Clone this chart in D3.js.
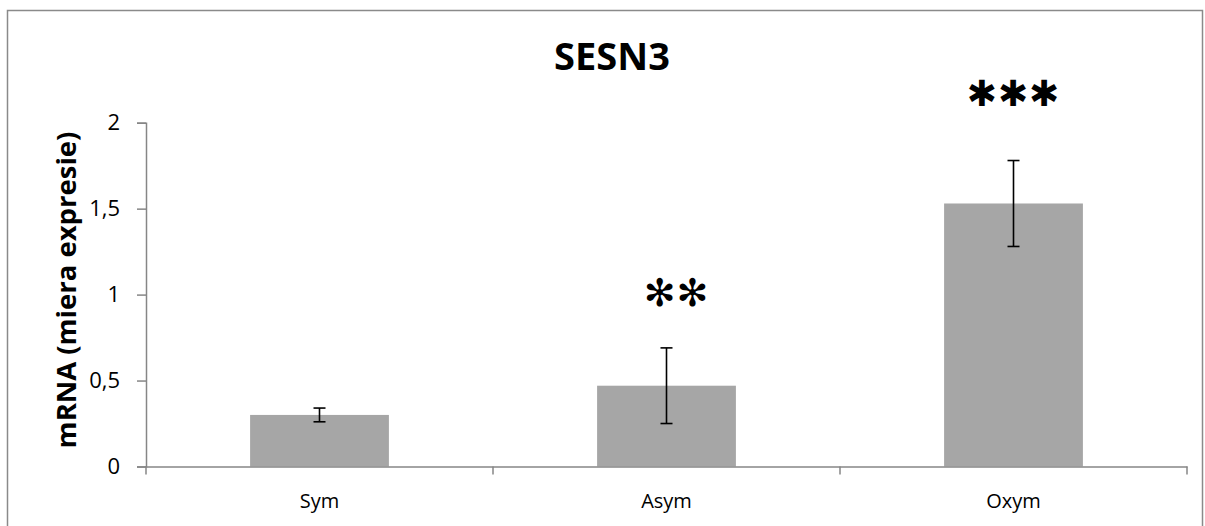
<!DOCTYPE html>
<html>
<head>
<meta charset="utf-8">
<script src="https://cdn.jsdelivr.net/npm/d3@7"></script>
<style>
  html, body { margin: 0; padding: 0; background: #fff; }
  svg { display: block; }
</style>
</head>
<body>
<svg id="chart" width="1205" height="526"></svg>
<script>
// SESN3 relative mRNA expression per group
const categories = ["Sym", "Asym", "Oxym"];
const values = [0.30, 0.47, 1.53];
const errors = [0.04, 0.22, 0.25];
const significance = ["", "✻✻", "✱✱✱"];
const yTicks = [0, 0.5, 1, 1.5, 2];
const yTickLabels = ["0", "0,5", "1", "1,5", "2"];

const svg = d3.select("#chart");
const axisColor = "#868686";
const font = "'Open Sans', 'Noto Sans', sans-serif";

// outer frame
svg.append("rect")
  .attr("x", 7.5).attr("y", 10.5)
  .attr("width", 1195).attr("height", 540)
  .attr("fill", "none").attr("stroke", "#8a8a8a").attr("stroke-width", 1.5);

const plot = { left: 146, right: 1187, top: 122.7, bottom: 466.5 };

const x = d3.scaleBand()
  .domain(categories)
  .range([plot.left, plot.right])
  .paddingInner(0.6).paddingOuter(0.3);

const xCat = d3.scaleBand().domain(categories).range([plot.left, plot.right]);

const y = d3.scaleLinear().domain([0, 2]).range([plot.bottom, plot.top]);

// bars
svg.selectAll("rect.bar")
  .data(categories)
  .join("rect")
  .attr("class", "bar")
  .attr("x", d => x(d))
  .attr("width", x.bandwidth())
  .attr("y", (d, i) => y(values[i]))
  .attr("height", (d, i) => y(0) - y(values[i]))
  .attr("fill", "#a6a6a6");

// y axis
const yAxis = d3.axisLeft(y)
  .tickValues(yTicks)
  .tickFormat((d, i) => yTickLabels[i])
  .tickSize(9)
  .tickPadding(17);
const gy = svg.append("g").attr("transform", `translate(${plot.left},0)`).call(yAxis);
gy.select(".domain").attr("stroke", axisColor).attr("stroke-width", 1.5);
gy.selectAll(".tick line").attr("stroke", axisColor).attr("stroke-width", 1.5);
gy.selectAll(".tick text")
  .attr("font-family", font).attr("font-size", 22).attr("fill", "#000");

// x axis: baseline with tick marks at category boundaries
const xAxis = d3.axisBottom(xCat).tickSize(0).tickPadding(27);
const gx = svg.append("g").attr("transform", `translate(0,${plot.bottom})`).call(xAxis);
gx.select(".domain").attr("stroke", axisColor).attr("stroke-width", 1.5);
gx.selectAll(".tick text")
  .attr("font-family", font).attr("font-size", 20).attr("fill", "#000");
const bounds = categories.map(c => xCat(c)).concat([plot.right]);
gx.selectAll("line.bound")
  .data(bounds)
  .join("line")
  .attr("class", "bound")
  .attr("x1", d => d).attr("x2", d => d)
  .attr("y1", 0).attr("y2", 8)
  .attr("stroke", axisColor).attr("stroke-width", 1.5);

// error bars
const capHalf = 6;
const cx = d => x(d) + x.bandwidth() / 2;
const eb = svg.selectAll("g.err")
  .data(categories)
  .join("g")
  .attr("class", "err");
eb.append("line")
  .attr("x1", cx).attr("x2", cx)
  .attr("y1", (d, i) => y(values[i] + errors[i]))
  .attr("y2", (d, i) => y(values[i] - errors[i]))
  .attr("stroke", "#000").attr("stroke-width", 1.6);
[1, -1].forEach(s => {
  eb.append("line")
    .attr("x1", d => cx(d) - capHalf)
    .attr("x2", d => cx(d) + capHalf)
    .attr("y1", (d, i) => y(values[i] + s * errors[i]))
    .attr("y2", (d, i) => y(values[i] + s * errors[i]))
    .attr("stroke", "#000").attr("stroke-width", 1.6);
});

// significance markers above the error bars
const sigStyle = [
  { dx: 0, dy: 0, size: 30 },
  { dx: 10, dy: -55, size: 38 },
  { dx: 0, dy: -67, size: 36 }
];
svg.selectAll("text.sig")
  .data(categories)
  .join("text")
  .attr("class", "sig")
  .attr("x", (d, i) => cx(d) + sigStyle[i].dx)
  .attr("y", (d, i) => y(values[i] + errors[i]) + sigStyle[i].dy)
  .attr("text-anchor", "middle")
  .attr("dominant-baseline", "central")
  .attr("font-family", "'DejaVu Sans', sans-serif")
  .attr("font-size", (d, i) => sigStyle[i].size)
  .attr("letter-spacing", 1)
  .attr("fill", "#000")
  .text((d, i) => significance[i]);

// title
svg.append("text")
  .attr("x", 612).attr("y", 70)
  .attr("text-anchor", "middle")
  .attr("font-family", font).attr("font-weight", "bold").attr("font-size", 38)
  .attr("fill", "#000")
  .text("SESN3");

// y axis title
svg.append("text")
  .attr("transform", `translate(76,290) rotate(-90)`)
  .attr("text-anchor", "middle")
  .attr("font-family", font).attr("font-weight", "bold").attr("font-size", 27.5)
  .attr("fill", "#000")
  .text("mRNA (miera expresie)");
</script>
</body>
</html>
